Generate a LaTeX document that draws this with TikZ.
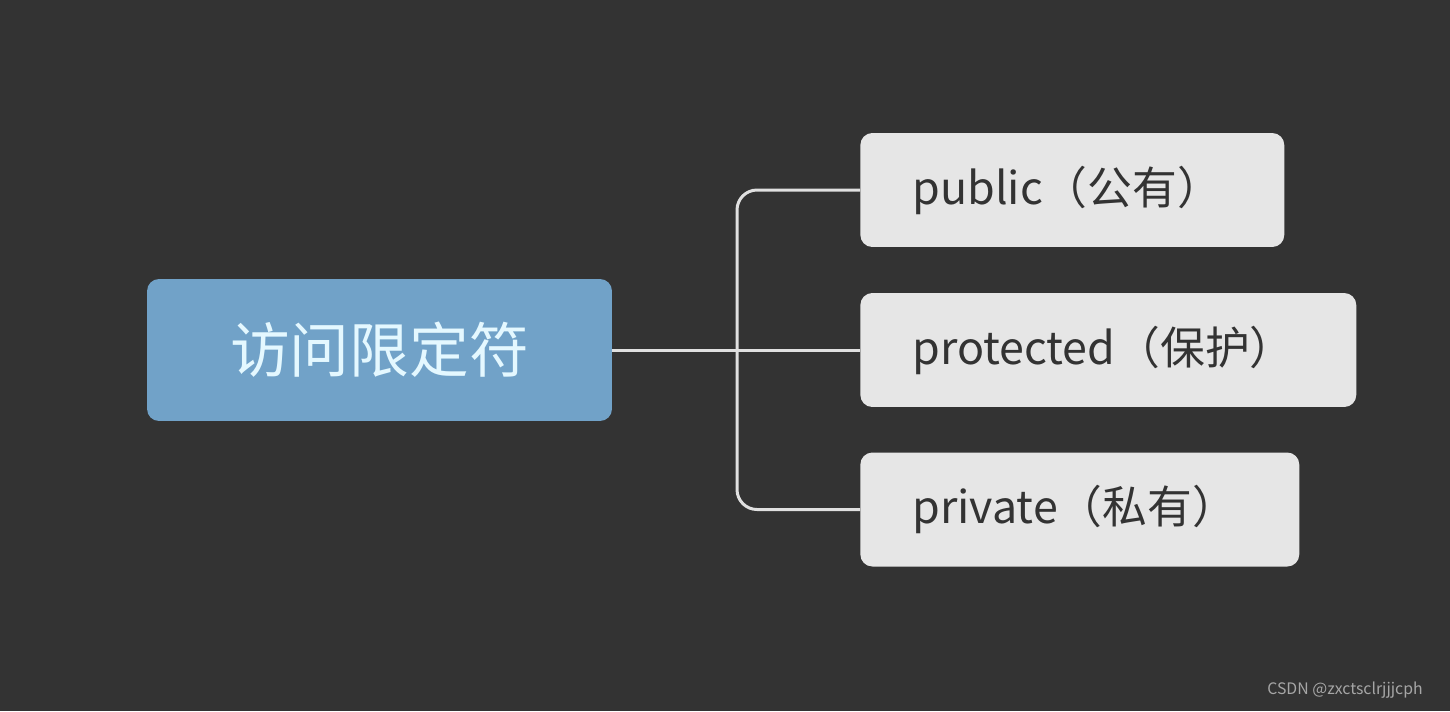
\documentclass[tikz,border=0pt]{standalone}
\usepackage{fontspec}
\usepackage{xcolor}
\usepackage{tikz}
\usetikzlibrary{positioning, calc}
\newfontfamily\cjk{Noto Sans CJK SC}
\definecolor{mmbg}{RGB}{51,51,51}
\definecolor{mmblue}{RGB}{113,162,200}
\definecolor{mmtopic}{RGB}{228,248,255}
\definecolor{mmleaf}{RGB}{230,230,230}
\definecolor{mmtext}{RGB}{51,51,51}
\definecolor{mmline}{RGB}{224,224,224}

\begin{document}
\begin{tikzpicture}[x=0.02cm, y=-0.02cm,
  root/.style={rectangle, rounded corners=0.24cm, fill=mmblue, text=mmtopic, minimum width=9.3cm, minimum height=2.84cm, align=center, font=\cjk\fontsize{34}{40}\selectfont},
  leaf/.style={rectangle, rounded corners=0.24cm, fill=mmleaf, text=mmtext, text width=#1, inner xsep=1.04cm, minimum height=2.28cm, align=left, anchor=west, font=\cjk\fontsize{25.5}{30}\selectfont},
  link/.style={draw=mmline, line width=0.06cm},
  wmark/.style={font=\cjk\fontsize{9}{11}\selectfont, text=gray!70}
]
\fill[mmbg] (0,0) rectangle (1450,711);
\useasboundingbox (0,0) rectangle (1450,711);
\node[root] (main) at (379.5,350) {\raisebox{3pt}{访问限定符}};
\node[leaf=6.4cm] (pub) at (860,190) {public（公有）};
\node[leaf=7.84cm] (prot) at (860,350) {protected（保护）};
\node[leaf=6.7cm] (priv) at (860,509.5) {private（私有）};
\coordinate (jn) at (737,350);
\draw[link] (main.east) -- (prot.west);
\draw[link, rounded corners=0.4cm] (jn) |- (pub.west);
\draw[link, rounded corners=0.4cm] (jn) |- (priv.west);
\node[wmark] (wm) at (1345,690) {CSDN @zxctsclrjjjcph};
\end{tikzpicture}
\end{document}
